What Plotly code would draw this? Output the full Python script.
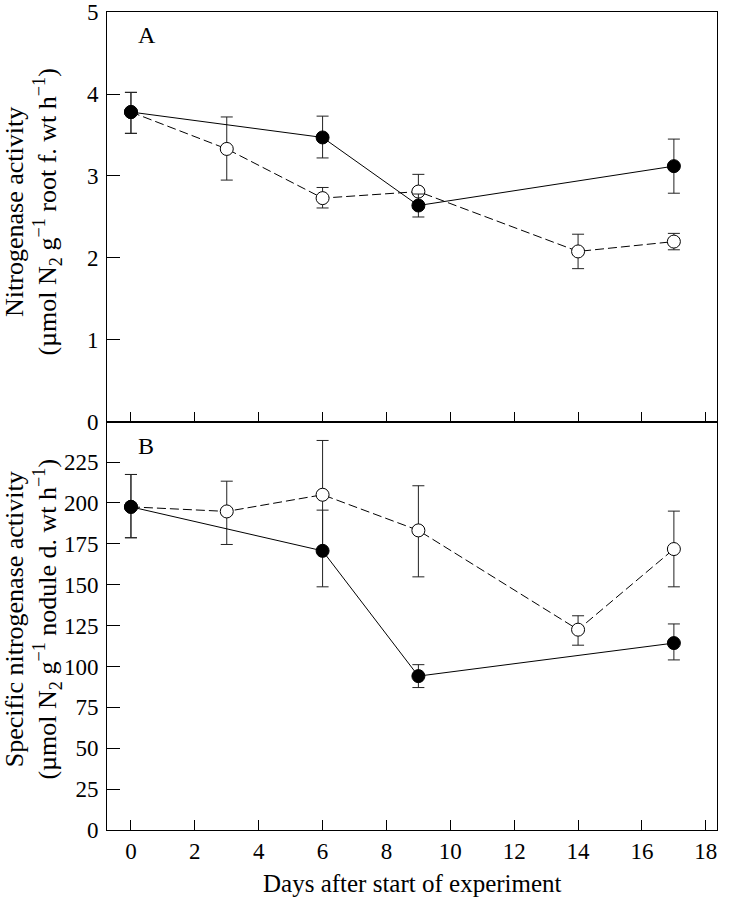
import plotly.graph_objects as go

# ---- data ----
# Panel A: nitrogenase activity (umol N2 g-1 root f. wt h-1)
a_fill_x = [0, 6, 9, 17]
a_fill_y = [3.78, 3.47, 2.64, 3.12]
a_fill_up = [0.24, 0.26, 0.14, 0.33]
a_fill_dn = [0.26, 0.25, 0.14, 0.33]

a_open_x = [0, 3, 6, 9, 14, 17]
a_open_y = [3.78, 3.33, 2.73, 2.81, 2.08, 2.20]
a_open_up = [0.24, 0.39, 0.13, 0.21, 0.21, 0.10]
a_open_dn = [0.26, 0.38, 0.12, 0.20, 0.21, 0.10]

# Panel B: specific nitrogenase activity (umol N2 g-1 nodule d. wt h-1)
b_fill_x = [0, 6, 9, 17]
b_fill_y = [197.6, 170.7, 94.1, 114.3]
b_fill_up = [19.8, 24.9, 7.0, 11.7]
b_fill_dn = [18.9, 22.0, 7.0, 10.3]

b_open_x = [0, 3, 6, 9, 14, 17]
b_open_y = [197.6, 194.8, 205.0, 183.2, 122.5, 171.8]
b_open_up = [19.8, 18.5, 33.2, 27.3, 8.5, 23.2]
b_open_dn = [18.9, 20.2, 33.0, 28.4, 9.5, 23.1]

x_ticks = [0, 2, 4, 6, 8, 10, 12, 14, 16, 18]
a_ticks = [0, 1, 2, 3, 4, 5]
b_ticks = [0, 25, 50, 75, 100, 125, 150, 175, 200, 225]

x_title = "Days after start of experiment"
a_title = "Nitrogenase activity<br>(µmol N<sub>2</sub> g<sup>−1</sup> root f. wt h<sup>−1</sup>)"
b_title = "Specific nitrogenase activity<br>(µmol N<sub>2</sub> g<sup>−1</sup> nodule d. wt h<sup>−1</sup>)"

FONT = "Liberation Serif, Times New Roman, serif"
TICK_FS = 23
TITLE_FS = 25
YTITLE_FS = 26
INK = "#000000"

fig = go.Figure()

def err(up, dn):
    return dict(type="data", symmetric=False, array=up, arrayminus=dn,
                color="#222222", thickness=1, width=6)

def open_trace(x, y, up, dn, xa, ya):
    return go.Scatter(x=x, y=y, mode="lines+markers",
                      line=dict(color=INK, width=1, dash="9px,4px"),
                      marker=dict(symbol="circle", size=13, color="white",
                                  line=dict(color=INK, width=1)),
                      error_y=err(up, dn), xaxis=xa, yaxis=ya, showlegend=False)

def fill_trace(x, y, up, dn, xa, ya):
    return go.Scatter(x=x, y=y, mode="lines+markers",
                      line=dict(color=INK, width=1),
                      marker=dict(symbol="circle", size=13, color=INK,
                                  line=dict(color=INK, width=1)),
                      error_y=err(up, dn), xaxis=xa, yaxis=ya, showlegend=False)

fig.add_trace(open_trace(a_open_x, a_open_y, a_open_up, a_open_dn, "x2", "y2"))
fig.add_trace(fill_trace(a_fill_x, a_fill_y, a_fill_up, a_fill_dn, "x2", "y2"))
fig.add_trace(open_trace(b_open_x, b_open_y, b_open_up, b_open_dn, "x", "y"))
fig.add_trace(fill_trace(b_fill_x, b_fill_y, b_fill_up, b_fill_dn, "x", "y"))

xcommon = dict(range=[-0.75, 18.35], tickvals=x_ticks, ticks="inside", ticklen=10,
               tickwidth=1, tickcolor=INK, showline=True, linecolor=INK, linewidth=1,
               mirror=True, showgrid=False, zeroline=False, automargin=False,
               tickfont=dict(size=TICK_FS))
ycommon = dict(ticks="inside", ticklen=13, tickwidth=1, tickcolor=INK, showline=True,
               linecolor=INK, linewidth=1, mirror=True, showgrid=False, zeroline=False,
               automargin=False, ticklabeloverflow="allow", ticklabelstandoff=3,
               tickfont=dict(size=TICK_FS))

fig.update_layout(
    width=734, height=900,
    paper_bgcolor="white", plot_bgcolor="white",
    margin=dict(l=107, r=17, t=12, b=70),
    font=dict(family=FONT, size=TICK_FS, color=INK),
    xaxis=dict(**xcommon, anchor="y"),
    xaxis2=dict(**xcommon, anchor="y2", matches="x", showticklabels=False),
    yaxis=dict(**ycommon, domain=[0, 0.4988], range=[0, 249.5], tickvals=b_ticks),
    yaxis2=dict(**ycommon, domain=[0.4988, 1], range=[0, 5], tickvals=a_ticks),
    annotations=[
        dict(text="A", x=0.15, y=4.72, xref="x2", yref="y2", showarrow=False,
             xanchor="left", yanchor="middle", font=dict(size=24)),
        dict(text="B", x=0.15, y=235, xref="x", yref="y", showarrow=False,
             xanchor="left", yanchor="middle", font=dict(size=24)),
        dict(text=a_title, x=-0.122, y=0.7555, xref="paper", yref="paper",
             showarrow=False, textangle=-90, xanchor="center", yanchor="middle",
             font=dict(size=YTITLE_FS)),
        dict(text=b_title, x=-0.122, y=0.258, xref="paper", yref="paper",
             showarrow=False, textangle=-90, xanchor="center", yanchor="middle",
             font=dict(size=YTITLE_FS)),
        dict(text=x_title, x=0.5, y=-0.066, xref="paper", yref="paper",
             showarrow=False, xanchor="center", yanchor="middle",
             font=dict(size=TITLE_FS)),
    ],
)

fig.write_html("out.html", config={"displayModeBar": False},
               post_script="document.body.style.margin='0';document.body.style.padding='0';")
